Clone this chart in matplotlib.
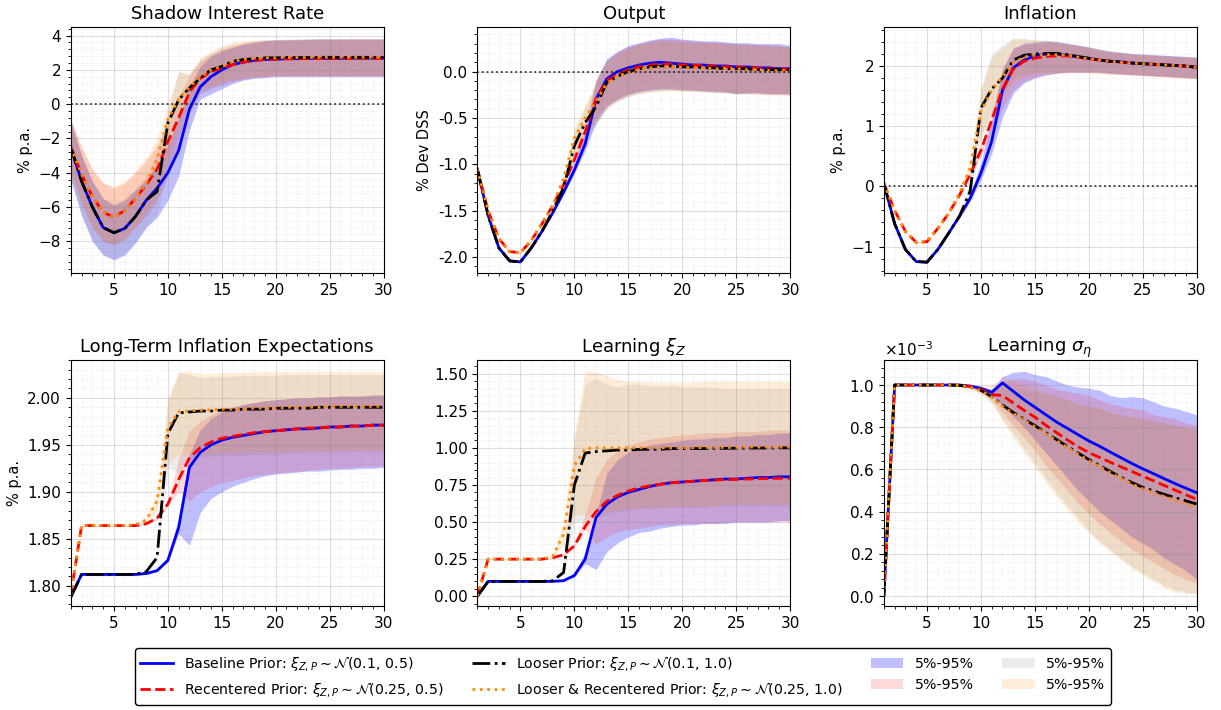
import numpy as np
import matplotlib
matplotlib.use('Agg')
import matplotlib.pyplot as plt
from matplotlib.ticker import MultipleLocator, AutoMinorLocator
from matplotlib.patches import Patch
from matplotlib.lines import Line2D

# horizonte
t = list(range(1, 31))

# Shadow interest rate
sr_base = [-2.5, -4.5, -6.0, -7.2, -7.5, -7.25, -6.55, -5.6, -4.9, -4.0, -2.7, -0.3, 1.0, 1.6, 2.0, 2.3, 2.45, 2.55, 2.6, 2.62, 2.65, 2.65, 2.66, 2.67, 2.67, 2.67, 2.68, 2.68, 2.68, 2.68]
sr_recent = [-2.5, -4.1, -5.4, -6.3, -6.6, -6.2, -5.5, -4.7, -3.8, -2.2, -0.8, 0.7, 1.5, 1.9, 2.1, 2.3, 2.45, 2.55, 2.6, 2.62, 2.64, 2.65, 2.65, 2.66, 2.66, 2.67, 2.67, 2.67, 2.67, 2.67]
sr_loose = [-2.5, -4.5, -6.0, -7.2, -7.5, -7.25, -6.55, -5.6, -5.1, -1.1, 0.25, 0.95, 1.5, 2.0, 2.2, 2.5, 2.6, 2.65, 2.7, 2.7, 2.72, 2.72, 2.72, 2.73, 2.73, 2.73, 2.73, 2.73, 2.73, 2.73]
sr_lr = [-2.5, -4.1, -5.4, -6.3, -6.6, -6.2, -5.5, -4.6, -3.2, -0.9, 0.3, 1.0, 1.6, 2.0, 2.2, 2.5, 2.6, 2.65, 2.7, 2.7, 2.72, 2.72, 2.72, 2.73, 2.73, 2.73, 2.73, 2.73, 2.73, 2.73]
sr_base_lo = [-4.4, -6.5, -8.0, -8.8, -9.1, -8.8, -8.1, -7.2, -6.6, -5.6, -4.2, -1.5, 0.3, 0.6, 0.9, 1.2, 1.4, 1.5, 1.55, 1.6, 1.6, 1.6, 1.6, 1.6, 1.6, 1.6, 1.6, 1.6, 1.6, 1.6]
sr_base_hi = [-1.0, -3.0, -4.5, -5.5, -5.9, -5.6, -5.0, -4.4, -3.5, -2.4, -0.8, 1.0, 2.2, 2.8, 3.1, 3.3, 3.5, 3.6, 3.7, 3.75, 3.75, 3.75, 3.8, 3.8, 3.8, 3.8, 3.8, 3.8, 3.8, 3.8]
sr_recent_lo = [-4.0, -5.8, -7.2, -8.0, -8.2, -7.9, -7.2, -6.5, -5.6, -4.2, -2.5, -0.5, 0.6, 0.9, 1.1, 1.3, 1.45, 1.55, 1.6, 1.65, 1.65, 1.65, 1.65, 1.65, 1.65, 1.65, 1.65, 1.65, 1.65, 1.65]
sr_recent_hi = [-0.9, -2.5, -3.8, -4.6, -4.9, -4.6, -4.0, -3.3, -2.4, -1.2, 0.4, 1.7, 2.5, 2.9, 3.2, 3.4, 3.55, 3.65, 3.7, 3.75, 3.75, 3.75, 3.75, 3.8, 3.8, 3.8, 3.8, 3.8, 3.8, 3.8]
sr_loose_lo = [-4.4, -6.5, -8.0, -8.8, -9.0, -8.7, -8.0, -7.1, -6.4, -4.0, -1.8, -0.2, 0.7, 1.0, 1.2, 1.4, 1.5, 1.6, 1.6, 1.65, 1.65, 1.65, 1.65, 1.65, 1.65, 1.65, 1.65, 1.65, 1.65, 1.65]
sr_loose_hi = [-1.0, -3.0, -4.5, -5.5, -5.8, -5.5, -4.9, -4.2, -2.8, -0.5, 1.9, 1.7, 2.6, 3.0, 3.3, 3.5, 3.6, 3.7, 3.75, 3.75, 3.75, 3.8, 3.8, 3.8, 3.8, 3.8, 3.8, 3.8, 3.8, 3.8]
sr_lr_lo = [-4.0, -5.8, -7.2, -8.0, -8.2, -7.8, -7.1, -6.3, -5.3, -3.0, -1.2, 0.3, 0.9, 1.1, 1.3, 1.45, 1.55, 1.6, 1.65, 1.65, 1.65, 1.65, 1.65, 1.65, 1.65, 1.65, 1.65, 1.65, 1.65, 1.65]
sr_lr_hi = [-0.9, -2.5, -3.8, -4.6, -4.8, -4.5, -3.9, -3.1, -2.0, 0.0, 1.9, 1.8, 2.7, 3.1, 3.4, 3.6, 3.7, 3.75, 3.75, 3.75, 3.8, 3.8, 3.8, 3.8, 3.8, 3.8, 3.8, 3.8, 3.8, 3.8]

# Output
out_base = [-1.05, -1.55, -1.9, -2.04, -2.05, -1.9, -1.72, -1.52, -1.3, -1.06, -0.78, -0.3, -0.08, 0.0, 0.04, 0.07, 0.09, 0.1, 0.09, 0.08, 0.07, 0.07, 0.06, 0.06, 0.05, 0.05, 0.04, 0.04, 0.03, 0.03]
out_recent = [-1.05, -1.5, -1.8, -1.94, -1.95, -1.82, -1.64, -1.44, -1.22, -0.95, -0.65, -0.3, -0.1, -0.03, 0.02, 0.05, 0.07, 0.08, 0.08, 0.07, 0.07, 0.06, 0.06, 0.05, 0.05, 0.04, 0.04, 0.03, 0.03, 0.02]
out_loose = [-1.05, -1.55, -1.9, -2.04, -2.05, -1.9, -1.72, -1.5, -1.25, -0.8, -0.55, -0.38, -0.12, -0.05, 0.0, 0.03, 0.05, 0.06, 0.06, 0.05, 0.05, 0.04, 0.04, 0.03, 0.03, 0.03, 0.02, 0.02, 0.02, 0.02]
out_lr = [-1.05, -1.5, -1.8, -1.94, -1.95, -1.82, -1.64, -1.44, -1.15, -0.72, -0.5, -0.32, -0.13, -0.05, -0.01, 0.02, 0.04, 0.05, 0.05, 0.05, 0.04, 0.04, 0.03, 0.03, 0.03, 0.02, 0.02, 0.01, 0.01, 0.01]
out_base_lo = [-1.06, -1.56, -1.91, -2.05, -2.06, -1.91, -1.73, -1.53, -1.32, -1.1, -0.85, -0.55, -0.38, -0.3, -0.25, -0.22, -0.2, -0.19, -0.19, -0.2, -0.2, -0.21, -0.22, -0.22, -0.24, -0.23, -0.23, -0.24, -0.24, -0.24]
out_base_hi = [-1.04, -1.54, -1.89, -2.03, -2.04, -1.89, -1.71, -1.51, -1.26, -0.98, -0.65, -0.1, 0.14, 0.22, 0.28, 0.31, 0.34, 0.36, 0.37, 0.35, 0.34, 0.33, 0.33, 0.32, 0.31, 0.31, 0.3, 0.3, 0.3, 0.28]
out_recent_lo = [-1.06, -1.51, -1.81, -1.95, -1.96, -1.83, -1.65, -1.45, -1.24, -0.98, -0.72, -0.5, -0.36, -0.29, -0.24, -0.21, -0.19, -0.18, -0.18, -0.19, -0.2, -0.2, -0.21, -0.22, -0.23, -0.23, -0.23, -0.24, -0.24, -0.25]
out_recent_hi = [-1.04, -1.49, -1.79, -1.93, -1.94, -1.81, -1.63, -1.43, -1.2, -0.9, -0.55, -0.08, 0.12, 0.21, 0.27, 0.3, 0.33, 0.35, 0.35, 0.34, 0.33, 0.32, 0.32, 0.31, 0.3, 0.3, 0.29, 0.29, 0.28, 0.27]
out_loose_lo = [-1.06, -1.56, -1.91, -2.05, -2.06, -1.91, -1.73, -1.53, -1.32, -0.95, -0.72, -0.58, -0.4, -0.32, -0.27, -0.24, -0.22, -0.21, -0.2, -0.21, -0.21, -0.22, -0.22, -0.23, -0.24, -0.24, -0.24, -0.25, -0.25, -0.25]
out_loose_hi = [-1.04, -1.54, -1.89, -2.03, -2.04, -1.89, -1.71, -1.49, -1.18, -0.65, -0.38, -0.12, 0.12, 0.2, 0.26, 0.3, 0.32, 0.34, 0.34, 0.33, 0.32, 0.32, 0.31, 0.3, 0.3, 0.29, 0.29, 0.28, 0.28, 0.27]
out_lr_lo = [-1.06, -1.51, -1.81, -1.95, -1.96, -1.83, -1.65, -1.45, -1.25, -0.88, -0.68, -0.56, -0.4, -0.32, -0.27, -0.24, -0.22, -0.21, -0.21, -0.21, -0.22, -0.22, -0.23, -0.23, -0.24, -0.24, -0.25, -0.25, -0.25, -0.26]
out_lr_hi = [-1.04, -1.49, -1.79, -1.93, -1.94, -1.81, -1.63, -1.42, -1.1, -0.6, -0.36, -0.12, 0.1, 0.19, 0.25, 0.29, 0.31, 0.33, 0.33, 0.32, 0.31, 0.31, 0.3, 0.3, 0.29, 0.28, 0.28, 0.27, 0.27, 0.26]

# Inflation
inf_base = [0.05, -0.62, -1.05, -1.25, -1.26, -1.05, -0.78, -0.5, -0.2, 0.22, 0.75, 1.6, 1.97, 2.1, 2.17, 2.2, 2.2, 2.18, 2.15, 2.13, 2.1, 2.08, 2.07, 2.05, 2.04, 2.03, 2.02, 2.01, 2.0, 1.98]
inf_recent = [0.05, -0.4, -0.75, -0.93, -0.92, -0.7, -0.45, -0.15, 0.2, 0.6, 1.1, 1.62, 1.95, 2.08, 2.13, 2.16, 2.17, 2.17, 2.15, 2.12, 2.1, 2.08, 2.06, 2.05, 2.04, 2.03, 2.02, 2.01, 2.0, 1.98]
inf_loose = [0.05, -0.62, -1.05, -1.25, -1.26, -1.05, -0.78, -0.5, -0.08, 1.3, 1.62, 1.8, 2.1, 2.18, 2.2, 2.21, 2.21, 2.19, 2.16, 2.13, 2.1, 2.08, 2.07, 2.05, 2.04, 2.03, 2.02, 2.01, 2.0, 1.98]
inf_lr = [0.05, -0.4, -0.75, -0.93, -0.92, -0.7, -0.45, -0.12, 0.3, 1.25, 1.6, 1.82, 2.05, 2.15, 2.18, 2.19, 2.19, 2.18, 2.15, 2.12, 2.1, 2.08, 2.06, 2.05, 2.04, 2.03, 2.02, 2.01, 2.0, 1.98]
inf_base_lo = [0.04, -0.63, -1.06, -1.26, -1.27, -1.06, -0.79, -0.52, -0.25, 0.1, 0.55, 1.15, 1.55, 1.72, 1.8, 1.85, 1.88, 1.9, 1.9, 1.9, 1.9, 1.88, 1.87, 1.86, 1.85, 1.84, 1.83, 1.82, 1.81, 1.8]
inf_base_hi = [0.06, -0.61, -1.04, -1.24, -1.25, -1.04, -0.77, -0.48, -0.12, 0.4, 1.1, 1.95, 2.3, 2.38, 2.4, 2.42, 2.41, 2.38, 2.35, 2.32, 2.28, 2.25, 2.23, 2.21, 2.2, 2.19, 2.18, 2.17, 2.16, 2.15]
inf_recent_lo = [0.04, -0.41, -0.76, -0.94, -0.93, -0.71, -0.46, -0.17, 0.15, 0.5, 0.85, 1.3, 1.6, 1.75, 1.82, 1.86, 1.88, 1.89, 1.89, 1.89, 1.88, 1.87, 1.86, 1.85, 1.84, 1.83, 1.82, 1.81, 1.8, 1.79]
inf_recent_hi = [0.06, -0.39, -0.74, -0.92, -0.91, -0.69, -0.44, -0.13, 0.25, 0.7, 1.2, 1.95, 2.28, 2.36, 2.38, 2.4, 2.39, 2.37, 2.34, 2.31, 2.27, 2.24, 2.22, 2.2, 2.19, 2.18, 2.17, 2.16, 2.15, 2.14]
inf_loose_lo = [0.04, -0.63, -1.06, -1.26, -1.27, -1.06, -0.79, -0.52, -0.2, 0.8, 1.2, 1.55, 1.8, 1.85, 1.88, 1.9, 1.9, 1.9, 1.9, 1.9, 1.89, 1.88, 1.87, 1.86, 1.85, 1.84, 1.83, 1.82, 1.81, 1.8]
inf_loose_hi = [0.06, -0.61, -1.04, -1.24, -1.25, -1.04, -0.77, -0.48, 0.1, 1.6, 2.2, 2.35, 2.47, 2.46, 2.44, 2.43, 2.41, 2.38, 2.35, 2.32, 2.28, 2.25, 2.23, 2.21, 2.2, 2.19, 2.18, 2.17, 2.16, 2.15]
inf_lr_lo = [0.04, -0.41, -0.76, -0.94, -0.93, -0.71, -0.46, -0.16, 0.2, 0.85, 1.2, 1.5, 1.75, 1.82, 1.86, 1.88, 1.89, 1.89, 1.89, 1.89, 1.88, 1.87, 1.86, 1.85, 1.84, 1.83, 1.82, 1.81, 1.8, 1.79]
inf_lr_hi = [0.06, -0.39, -0.74, -0.92, -0.91, -0.69, -0.44, -0.08, 0.45, 1.65, 2.15, 2.3, 2.45, 2.45, 2.43, 2.42, 2.4, 2.37, 2.34, 2.31, 2.27, 2.24, 2.22, 2.2, 2.19, 2.18, 2.17, 2.16, 2.15, 2.14]

# Long-term inflation expectations
lte_base = [1.788, 1.812, 1.812, 1.812, 1.812, 1.812, 1.812, 1.813, 1.816, 1.827, 1.862, 1.926, 1.942, 1.950, 1.955, 1.958, 1.960, 1.962, 1.964, 1.965, 1.966, 1.967, 1.967, 1.968, 1.969, 1.969, 1.970, 1.970, 1.971, 1.971]
lte_recent = [1.790, 1.864, 1.864, 1.864, 1.864, 1.864, 1.864, 1.866, 1.872, 1.887, 1.913, 1.936, 1.947, 1.953, 1.957, 1.959, 1.961, 1.963, 1.964, 1.965, 1.966, 1.967, 1.968, 1.968, 1.969, 1.969, 1.970, 1.970, 1.971, 1.971]
lte_loose = [1.788, 1.812, 1.812, 1.812, 1.812, 1.812, 1.812, 1.815, 1.830, 1.962, 1.984, 1.985, 1.986, 1.986, 1.987, 1.987, 1.988, 1.988, 1.988, 1.989, 1.989, 1.989, 1.989, 1.990, 1.990, 1.990, 1.990, 1.990, 1.990, 1.990]
lte_lr = [1.790, 1.864, 1.864, 1.864, 1.864, 1.864, 1.865, 1.870, 1.890, 1.968, 1.985, 1.986, 1.987, 1.987, 1.988, 1.988, 1.988, 1.989, 1.989, 1.989, 1.990, 1.990, 1.990, 1.990, 1.991, 1.991, 1.991, 1.991, 1.991, 1.991]
lte_base_lo = [1.787, 1.811, 1.811, 1.811, 1.811, 1.811, 1.811, 1.812, 1.815, 1.825, 1.855, 1.843, 1.878, 1.893, 1.900, 1.906, 1.910, 1.914, 1.917, 1.919, 1.920, 1.921, 1.922, 1.922, 1.923, 1.924, 1.924, 1.925, 1.925, 1.926]
lte_base_hi = [1.789, 1.813, 1.813, 1.813, 1.813, 1.813, 1.813, 1.814, 1.818, 1.830, 1.872, 1.940, 1.966, 1.978, 1.985, 1.990, 1.993, 1.995, 1.997, 1.998, 1.999, 2.000, 2.000, 2.001, 2.001, 2.002, 2.002, 2.002, 2.003, 2.003]
lte_recent_lo = [1.789, 1.863, 1.863, 1.863, 1.863, 1.863, 1.863, 1.865, 1.870, 1.884, 1.900, 1.890, 1.900, 1.905, 1.910, 1.912, 1.915, 1.917, 1.919, 1.920, 1.921, 1.922, 1.923, 1.924, 1.925, 1.925, 1.926, 1.927, 1.927, 1.928]
lte_recent_hi = [1.791, 1.865, 1.865, 1.865, 1.865, 1.865, 1.865, 1.867, 1.874, 1.890, 1.935, 1.965, 1.975, 1.982, 1.987, 1.990, 1.993, 1.995, 1.997, 1.998, 1.999, 2.000, 2.000, 2.001, 2.001, 2.002, 2.002, 2.002, 2.003, 2.003]
lte_loose_lo = [1.787, 1.811, 1.811, 1.811, 1.811, 1.811, 1.811, 1.814, 1.826, 1.925, 1.920, 1.935, 1.937, 1.938, 1.938, 1.939, 1.939, 1.940, 1.940, 1.940, 1.941, 1.941, 1.941, 1.942, 1.942, 1.942, 1.942, 1.943, 1.943, 1.943]
lte_loose_hi = [1.789, 1.813, 1.813, 1.813, 1.813, 1.813, 1.813, 1.816, 1.836, 1.995, 2.027, 2.025, 2.022, 2.022, 2.023, 2.023, 2.024, 2.024, 2.024, 2.024, 2.025, 2.025, 2.025, 2.025, 2.025, 2.025, 2.025, 2.025, 2.025, 2.025]
lte_lr_lo = [1.789, 1.863, 1.863, 1.863, 1.863, 1.863, 1.864, 1.868, 1.880, 1.930, 1.940, 1.940, 1.941, 1.941, 1.942, 1.942, 1.942, 1.943, 1.943, 1.943, 1.943, 1.944, 1.944, 1.944, 1.944, 1.944, 1.945, 1.945, 1.945, 1.945]
lte_lr_hi = [1.791, 1.865, 1.865, 1.865, 1.865, 1.865, 1.866, 1.872, 1.900, 2.000, 2.028, 2.028, 2.026, 2.026, 2.027, 2.027, 2.027, 2.028, 2.028, 2.028, 2.028, 2.028, 2.028, 2.028, 2.028, 2.028, 2.028, 2.028, 2.028, 2.028]

# Learning xi_Z
xi_base = [0.0, 0.1, 0.1, 0.1, 0.1, 0.1, 0.1, 0.1, 0.105, 0.14, 0.25, 0.53, 0.62, 0.67, 0.70, 0.72, 0.74, 0.755, 0.765, 0.77, 0.775, 0.78, 0.785, 0.79, 0.79, 0.795, 0.80, 0.80, 0.805, 0.805]
xi_recent = [0.0, 0.25, 0.25, 0.25, 0.25, 0.25, 0.25, 0.26, 0.28, 0.34, 0.47, 0.57, 0.64, 0.68, 0.71, 0.73, 0.745, 0.755, 0.765, 0.77, 0.775, 0.78, 0.783, 0.786, 0.788, 0.79, 0.792, 0.794, 0.795, 0.795]
xi_loose = [0.0, 0.1, 0.1, 0.1, 0.1, 0.1, 0.1, 0.105, 0.16, 0.75, 0.965, 0.975, 0.98, 0.985, 0.985, 0.99, 0.99, 0.99, 0.995, 0.995, 0.995, 0.995, 0.997, 0.997, 0.998, 0.998, 0.999, 0.999, 1.0, 1.0]
xi_lr = [0.0, 0.25, 0.25, 0.25, 0.25, 0.25, 0.25, 0.27, 0.42, 0.88, 0.995, 1.0, 1.0, 1.0, 1.0, 1.0, 1.0, 1.0, 1.0, 1.0, 1.0, 1.003, 1.003, 1.003, 1.003, 1.005, 1.005, 1.005, 1.005, 1.005]
xi_base_lo = [0.0, 0.099, 0.099, 0.099, 0.099, 0.099, 0.099, 0.099, 0.103, 0.13, 0.22, 0.18, 0.3, 0.36, 0.4, 0.43, 0.44, 0.46, 0.47, 0.48, 0.48, 0.49, 0.49, 0.49, 0.5, 0.5, 0.5, 0.5, 0.51, 0.51]
xi_base_hi = [0.0, 0.101, 0.101, 0.101, 0.101, 0.101, 0.101, 0.101, 0.108, 0.15, 0.3, 0.55, 0.83, 0.92, 0.97, 1.0, 1.02, 1.03, 1.04, 1.05, 1.06, 1.06, 1.07, 1.07, 1.08, 1.08, 1.09, 1.09, 1.1, 1.1]
xi_recent_lo = [0.0, 0.249, 0.249, 0.249, 0.249, 0.249, 0.249, 0.258, 0.275, 0.33, 0.45, 0.35, 0.4, 0.43, 0.45, 0.46, 0.47, 0.48, 0.48, 0.49, 0.49, 0.49, 0.49, 0.5, 0.5, 0.5, 0.5, 0.5, 0.5, 0.5]
xi_recent_hi = [0.0, 0.251, 0.251, 0.251, 0.251, 0.251, 0.251, 0.262, 0.285, 0.36, 0.55, 0.8, 0.92, 0.98, 1.02, 1.04, 1.06, 1.07, 1.08, 1.09, 1.09, 1.1, 1.1, 1.1, 1.11, 1.11, 1.11, 1.12, 1.12, 1.12]
xi_loose_lo = [0.0, 0.099, 0.099, 0.099, 0.099, 0.099, 0.099, 0.103, 0.15, 0.5, 0.5, 0.52, 0.56, 0.57, 0.58, 0.59, 0.59, 0.6, 0.6, 0.6, 0.6, 0.6, 0.61, 0.61, 0.61, 0.61, 0.61, 0.61, 0.61, 0.61]
xi_loose_hi = [0.0, 0.101, 0.101, 0.101, 0.101, 0.101, 0.101, 0.107, 0.2, 1.05, 1.43, 1.47, 1.43, 1.41, 1.43, 1.43, 1.42, 1.42, 1.42, 1.41, 1.41, 1.41, 1.41, 1.4, 1.4, 1.4, 1.4, 1.4, 1.4, 1.4]
xi_lr_lo = [0.0, 0.249, 0.249, 0.249, 0.249, 0.249, 0.249, 0.265, 0.35, 0.55, 0.55, 0.55, 0.57, 0.58, 0.59, 0.6, 0.6, 0.6, 0.61, 0.61, 0.61, 0.61, 0.61, 0.62, 0.62, 0.62, 0.62, 0.62, 0.62, 0.62]
xi_lr_hi = [0.0, 0.251, 0.251, 0.251, 0.251, 0.251, 0.251, 0.275, 0.5, 1.1, 1.52, 1.51, 1.49, 1.46, 1.45, 1.45, 1.44, 1.44, 1.44, 1.44, 1.44, 1.45, 1.45, 1.45, 1.45, 1.45, 1.45, 1.45, 1.45, 1.45]

# Learning sigma_eta (en unidades de 1e-3)
sig_base = [0.0, 1.0, 1.0, 1.0, 1.0, 1.0, 1.0, 1.0, 0.995, 0.985, 0.965, 1.01, 0.97, 0.93, 0.895, 0.86, 0.825, 0.795, 0.765, 0.735, 0.71, 0.682, 0.655, 0.628, 0.603, 0.58, 0.556, 0.533, 0.511, 0.49]
sig_recent = [0.0, 1.0, 1.0, 1.0, 1.0, 1.0, 1.0, 1.0, 0.993, 0.98, 0.955, 0.95, 0.915, 0.88, 0.848, 0.81, 0.775, 0.74, 0.708, 0.68, 0.657, 0.634, 0.612, 0.59, 0.568, 0.546, 0.524, 0.502, 0.48, 0.458]
sig_loose = [0.0, 1.0, 1.0, 1.0, 1.0, 1.0, 1.0, 0.998, 0.99, 0.975, 0.945, 0.905, 0.87, 0.838, 0.808, 0.775, 0.742, 0.71, 0.678, 0.647, 0.618, 0.59, 0.563, 0.538, 0.515, 0.498, 0.482, 0.466, 0.451, 0.436]
sig_lr = [0.0, 1.0, 1.0, 1.0, 1.0, 1.0, 1.0, 0.998, 0.99, 0.973, 0.943, 0.9, 0.865, 0.833, 0.803, 0.77, 0.737, 0.705, 0.673, 0.642, 0.613, 0.585, 0.558, 0.532, 0.508, 0.49, 0.472, 0.455, 0.438, 0.42]
sig_base_lo = [0.0, 0.999, 1.0, 1.0, 1.0, 1.0, 1.0, 0.999, 0.99, 0.975, 0.95, 0.9, 0.85, 0.8, 0.74, 0.68, 0.62, 0.56, 0.5, 0.45, 0.4, 0.36, 0.32, 0.28, 0.25, 0.22, 0.18, 0.15, 0.12, 0.08]
sig_base_hi = [0.0, 1.0, 1.0, 1.0, 1.0, 1.0, 1.0, 1.0, 0.997, 0.99, 0.98, 1.04, 1.06, 1.065, 1.05, 1.04, 1.02, 1.0, 0.99, 0.985, 0.975, 0.95, 0.94, 0.945, 0.94, 0.92, 0.9, 0.89, 0.875, 0.86]
sig_recent_lo = [0.0, 0.999, 1.0, 1.0, 1.0, 1.0, 1.0, 0.999, 0.988, 0.97, 0.93, 0.87, 0.81, 0.75, 0.69, 0.62, 0.56, 0.5, 0.44, 0.39, 0.34, 0.3, 0.26, 0.22, 0.19, 0.16, 0.13, 0.1, 0.08, 0.06]
sig_recent_hi = [0.0, 1.0, 1.0, 1.0, 1.0, 1.0, 1.0, 1.0, 0.996, 0.988, 0.97, 1.02, 1.03, 1.03, 1.02, 1.0, 0.98, 0.97, 0.96, 0.95, 0.93, 0.91, 0.9, 0.89, 0.88, 0.86, 0.85, 0.84, 0.82, 0.81]
sig_loose_lo = [0.0, 0.999, 1.0, 1.0, 1.0, 1.0, 1.0, 0.997, 0.985, 0.96, 0.92, 0.84, 0.77, 0.7, 0.63, 0.56, 0.49, 0.43, 0.37, 0.31, 0.26, 0.22, 0.18, 0.14, 0.11, 0.08, 0.05, 0.03, 0.02, 0.01]
sig_loose_hi = [0.0, 1.0, 1.0, 1.0, 1.0, 1.0, 1.0, 1.0, 0.996, 0.99, 0.98, 0.99, 0.99, 0.98, 0.97, 0.96, 0.95, 0.93, 0.91, 0.9, 0.89, 0.87, 0.86, 0.85, 0.84, 0.83, 0.82, 0.81, 0.8, 0.79]
sig_lr_lo = [0.0, 0.999, 1.0, 1.0, 1.0, 1.0, 1.0, 0.997, 0.983, 0.955, 0.91, 0.83, 0.75, 0.68, 0.61, 0.54, 0.47, 0.41, 0.35, 0.3, 0.25, 0.21, 0.17, 0.13, 0.1, 0.07, 0.04, 0.02, 0.01, 0.01]
sig_lr_hi = [0.0, 1.0, 1.0, 1.0, 1.0, 1.0, 1.0, 1.0, 0.996, 0.99, 1.0, 1.04, 1.02, 1.0, 0.98, 0.96, 0.95, 0.93, 0.91, 0.9, 0.89, 0.87, 0.86, 0.85, 0.84, 0.83, 0.82, 0.81, 0.8, 0.79]

titles = ['Shadow Interest Rate', 'Output', 'Inflation',
          'Long-Term Inflation Expectations', r'Learning $\xi_Z$', r'Learning $\sigma_\eta$']
ylabels = ['% p.a.', '% Dev DSS', '% p.a.', '% p.a.', '', '']
labels = [r'Baseline Prior: $\xi_{Z,P} \sim \mathcal{N}(0.1,\, 0.5)$',
          r'Recentered Prior: $\xi_{Z,P} \sim \mathcal{N}(0.25,\, 0.5)$',
          r'Looser Prior: $\xi_{Z,P} \sim \mathcal{N}(0.1,\, 1.0)$',
          r'Looser & Recentered Prior: $\xi_{Z,P} \sim \mathcal{N}(0.25,\, 1.0)$']

lines_data = [
    [sr_base, sr_recent, sr_loose, sr_lr],
    [out_base, out_recent, out_loose, out_lr],
    [inf_base, inf_recent, inf_loose, inf_lr],
    [lte_base, lte_recent, lte_loose, lte_lr],
    [xi_base, xi_recent, xi_loose, xi_lr],
    [sig_base, sig_recent, sig_loose, sig_lr],
]
bands_data = [
    [(sr_base_lo, sr_base_hi), (sr_recent_lo, sr_recent_hi), (sr_loose_lo, sr_loose_hi), (sr_lr_lo, sr_lr_hi)],
    [(out_base_lo, out_base_hi), (out_recent_lo, out_recent_hi), (out_loose_lo, out_loose_hi), (out_lr_lo, out_lr_hi)],
    [(inf_base_lo, inf_base_hi), (inf_recent_lo, inf_recent_hi), (inf_loose_lo, inf_loose_hi), (inf_lr_lo, inf_lr_hi)],
    [(lte_base_lo, lte_base_hi), (lte_recent_lo, lte_recent_hi), (lte_loose_lo, lte_loose_hi), (lte_lr_lo, lte_lr_hi)],
    [(xi_base_lo, xi_base_hi), (xi_recent_lo, xi_recent_hi), (xi_loose_lo, xi_loose_hi), (xi_lr_lo, xi_lr_hi)],
    [(sig_base_lo, sig_base_hi), (sig_recent_lo, sig_recent_hi), (sig_loose_lo, sig_loose_hi), (sig_lr_lo, sig_lr_hi)],
]
scales = [1, 1, 1, 1, 1, 1e-3]
ylims = [(-9.85, 4.5), (-2.17, 0.48), (-1.44, 2.65), (1.778, 2.04), (-0.068, 1.59), (-0.049e-3, 1.117e-3)]
ysteps = [2, 0.5, 1, 0.05, 0.25, 0.2e-3]
zero_line = [True, True, True, False, False, False]

line_colors = ['blue', 'red', 'black', 'darkorange']
line_styles = ['-', '--', '-.', ':']
band_colors = ['blue', 'red', 'gray', 'darkorange']
band_alpha = [0.25, 0.15, 0.15, 0.15]

fig, axes = plt.subplots(2, 3, figsize=(12.21, 7.1), dpi=100)
fig.subplots_adjust(left=0.058, right=0.980, top=0.962, bottom=0.146, wspace=0.30, hspace=0.355)

for i, ax in enumerate(axes.flat):
    s = scales[i]
    for (lo, hi), c, a in zip(bands_data[i], band_colors, band_alpha):
        ax.fill_between(t, np.array(lo) * s, np.array(hi) * s, color=c, alpha=a, linewidth=0)
    for y, c, ls in zip(lines_data[i], line_colors, line_styles):
        ax.plot(t, np.array(y) * s, color=c, linestyle=ls, linewidth=2)
    if zero_line[i]:
        ax.axhline(0, color='black', linestyle=':', linewidth=1.3, alpha=0.75)
    ax.set_title(titles[i], fontsize=13)
    if ylabels[i]:
        ax.set_ylabel(ylabels[i], fontsize=10.5)
    ax.set_xlim(1, 30)
    ax.set_ylim(*ylims[i])
    ax.xaxis.set_major_locator(MultipleLocator(5))
    ax.yaxis.set_major_locator(MultipleLocator(ysteps[i]))
    ax.xaxis.set_minor_locator(AutoMinorLocator(5))
    ax.yaxis.set_minor_locator(AutoMinorLocator(5))
    ax.grid(which='major', color='gray', alpha=0.25, linewidth=0.8)
    ax.grid(which='minor', color='gray', alpha=0.2, linestyle=':', linewidth=0.6)
    ax.tick_params(labelsize=11)

axes[0, 1].yaxis.set_major_formatter(matplotlib.ticker.FormatStrFormatter('%.1f'))
axes[1, 0].yaxis.set_major_formatter(matplotlib.ticker.FormatStrFormatter('%.2f'))
axes[1, 1].yaxis.set_major_formatter(matplotlib.ticker.FormatStrFormatter('%.2f'))
axes[1, 2].ticklabel_format(axis='y', style='sci', scilimits=(0, 0), useMathText=True)
axes[1, 2].yaxis.get_offset_text().set_fontsize(11)

handles = [Line2D([], [], color=c, linestyle=ls, linewidth=2) for c, ls in zip(line_colors, line_styles)]
handles += [Patch(facecolor=c, alpha=a) for c, a in zip(band_colors, band_alpha)]
leg_labels = labels + ['5%-95%'] * 4
fig.legend(handles, leg_labels, loc='center', bbox_to_anchor=(0.51, 0.047), ncol=4,
           fontsize=10.2, handlelength=2.3, frameon=True, edgecolor='black', fancybox=True, framealpha=1)

plt.savefig('out.png', dpi=100)
